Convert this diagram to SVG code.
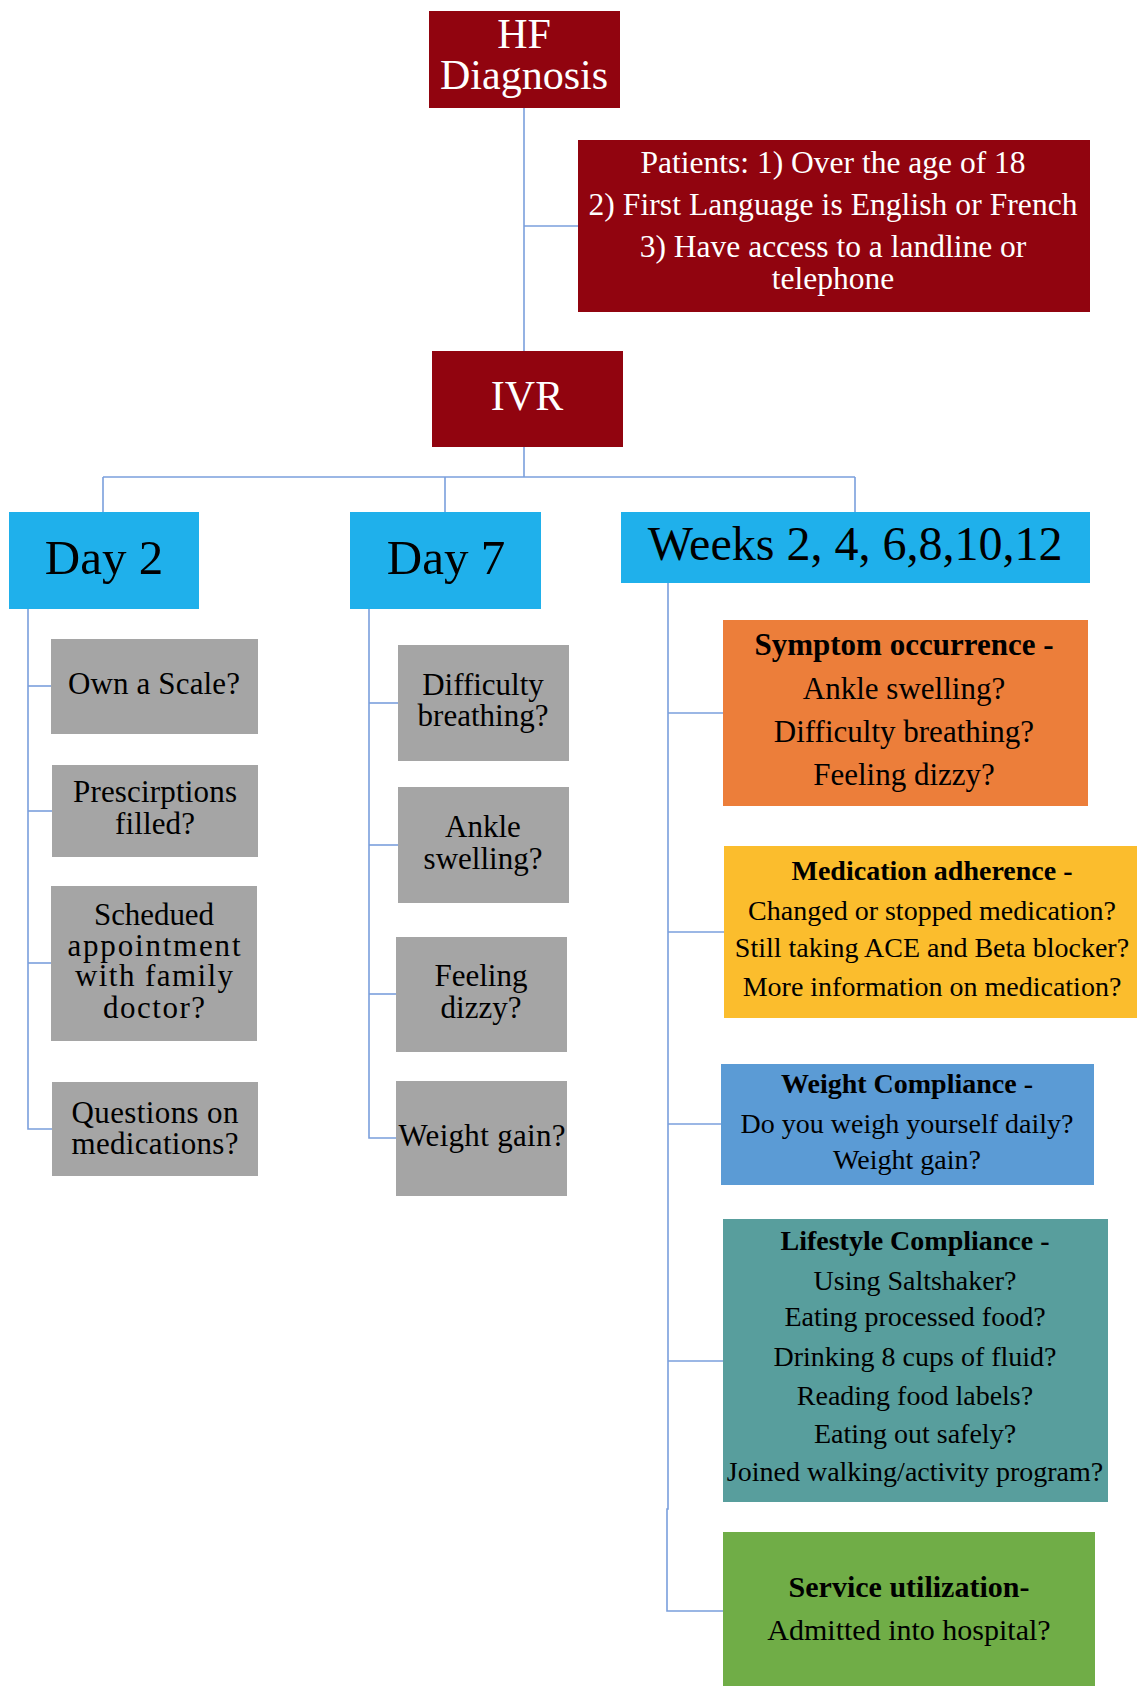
<svg xmlns="http://www.w3.org/2000/svg" width="1137" height="1686" viewBox="0 0 1137 1686">
<style>
text{font-family:"Liberation Serif","Times New Roman",serif;text-anchor:middle;}
.w{fill:#ffffff;}
.k{fill:#000000;}
.b{font-weight:bold;}
.red{fill:#91040F;}
.sky{fill:#1FB0EB;}
.gray{fill:#A5A5A5;}
.con{fill:none;stroke:#7A9FDC;stroke-width:1.6;}
</style>
<rect width="1137" height="1686" fill="#ffffff"/>
<g id="connectors">
<path class="con" d="M524 108 V351"/>
<path class="con" d="M524 226 H578"/>
<path class="con" d="M524 447 V477"/>
<path class="con" d="M103 477 H855"/>
<path class="con" d="M103 477 V512"/>
<path class="con" d="M445 477 V512"/>
<path class="con" d="M855 477 V512"/>
<path class="con" d="M28 609 V1129 H52"/>
<path class="con" d="M28 686 H51"/>
<path class="con" d="M28 811 H52"/>
<path class="con" d="M28 963 H51"/>
<path class="con" d="M369 609 V1138 H396"/>
<path class="con" d="M369 703 H398"/>
<path class="con" d="M369 845 H398"/>
<path class="con" d="M369 994 H396"/>
<path class="con" d="M668 583 V1509 H667 V1611 H723"/>
<path class="con" d="M668 713 H723"/>
<path class="con" d="M668 932 H724"/>
<path class="con" d="M668 1124 H721"/>
<path class="con" d="M668 1361 H723"/>
</g>
<g id="hf">
<rect class="red" x="429" y="11" width="191" height="97"/>
<text class="w" x="524" y="48" font-size="42">HF</text>
<text class="w" x="524" y="89" font-size="42">Diagnosis</text>
</g>
<g id="patients">
<rect class="red" x="578" y="140" width="512" height="172"/>
<text class="w" x="833" y="173" font-size="31.5" textLength="385" lengthAdjust="spacing">Patients: 1) Over the age of 18</text>
<text class="w" x="833" y="215" font-size="31.5" textLength="489" lengthAdjust="spacing">2) First Language is English or French</text>
<text class="w" x="833" y="257" font-size="31.5">3) Have access to a landline or</text>
<text class="w" x="833" y="289" font-size="31.5">telephone</text>
</g>
<g id="ivr">
<rect class="red" x="432" y="351" width="191" height="96"/>
<text class="w" x="527" y="410" font-size="42">IVR</text>
</g>
<g id="day2">
<rect class="sky" x="9" y="512" width="190" height="97"/>
<text class="k" x="104" y="574" font-size="49">Day 2</text>
</g>
<g id="day7">
<rect class="sky" x="350" y="512" width="191" height="97"/>
<text class="k" x="446" y="574" font-size="49">Day 7</text>
</g>
<g id="weeks">
<rect class="sky" x="621" y="512" width="469" height="71"/>
<text class="k" x="855" y="560" font-size="48">Weeks 2, 4, 6,8,10,12</text>
</g>
<g id="own-scale">
<rect class="gray" x="51" y="639" width="207" height="95"/>
<text class="k" x="154" y="694" font-size="31" textLength="172" lengthAdjust="spacing">Own a Scale?</text>
</g>
<g id="prescriptions">
<rect class="gray" x="52" y="765" width="206" height="92"/>
<text class="k" x="155" y="802" font-size="31" textLength="164" lengthAdjust="spacing">Prescirptions</text>
<text class="k" x="155" y="834" font-size="31" textLength="80" lengthAdjust="spacing">filled?</text>
</g>
<g id="appointment">
<rect class="gray" x="51" y="886" width="206" height="155"/>
<text class="k" x="154" y="925" font-size="31" textLength="120" lengthAdjust="spacing">Schedued</text>
<text class="k" x="154" y="956" font-size="31" textLength="173" lengthAdjust="spacing">appointment</text>
<text class="k" x="154" y="986" font-size="31" textLength="158" lengthAdjust="spacing">with family</text>
<text class="k" x="154" y="1018" font-size="31" textLength="102" lengthAdjust="spacing">doctor?</text>
</g>
<g id="questions">
<rect class="gray" x="52" y="1082" width="206" height="94"/>
<text class="k" x="155" y="1123" font-size="31" textLength="167" lengthAdjust="spacing">Questions on</text>
<text class="k" x="155" y="1154" font-size="31" textLength="167" lengthAdjust="spacing">medications?</text>
</g>
<g id="difficulty">
<rect class="gray" x="398" y="645" width="171" height="116"/>
<text class="k" x="483" y="695" font-size="31">Difficulty</text>
<text class="k" x="483" y="726" font-size="31">breathing?</text>
</g>
<g id="ankle">
<rect class="gray" x="398" y="787" width="171" height="116"/>
<text class="k" x="483" y="837" font-size="31">Ankle</text>
<text class="k" x="483" y="869" font-size="31">swelling?</text>
</g>
<g id="dizzy">
<rect class="gray" x="396" y="937" width="171" height="115"/>
<text class="k" x="481" y="986" font-size="31">Feeling</text>
<text class="k" x="481" y="1018" font-size="31">dizzy?</text>
</g>
<g id="weight-gain">
<rect class="gray" x="396" y="1081" width="171" height="115"/>
<text class="k" x="482" y="1146" font-size="31" textLength="167" lengthAdjust="spacing">Weight gain?</text>
</g>
<g id="symptom">
<rect x="723" y="620" width="365" height="186" fill="#EC7E3A"/>
<text class="k b" x="904" y="655" font-size="31">Symptom occurrence -</text>
<text class="k" x="904" y="699" font-size="31">Ankle swelling?</text>
<text class="k" x="904" y="742" font-size="31">Difficulty breathing?</text>
<text class="k" x="904" y="785" font-size="31">Feeling dizzy?</text>
</g>
<g id="medication">
<rect x="724" y="846" width="413" height="172" fill="#FBBD2D"/>
<text class="k b" x="932" y="880" font-size="28">Medication adherence -</text>
<text class="k" x="932" y="920" font-size="28">Changed or stopped medication?</text>
<text class="k" x="932" y="957" font-size="28">Still taking ACE and Beta blocker?</text>
<text class="k" x="932" y="996" font-size="28">More information on medication?</text>
</g>
<g id="weight">
<rect x="721" y="1064" width="373" height="121" fill="#5B9BD5"/>
<text class="k b" x="907" y="1093" font-size="28">Weight Compliance -</text>
<text class="k" x="907" y="1133" font-size="28">Do you weigh yourself daily?</text>
<text class="k" x="907" y="1169" font-size="28">Weight gain?</text>
</g>
<g id="lifestyle">
<rect x="723" y="1219" width="385" height="283" fill="#589E9D"/>
<text class="k b" x="915" y="1250" font-size="28">Lifestyle Compliance -</text>
<text class="k" x="915" y="1290" font-size="28">Using Saltshaker?</text>
<text class="k" x="915" y="1326" font-size="28">Eating processed food?</text>
<text class="k" x="915" y="1366" font-size="28">Drinking 8 cups of fluid?</text>
<text class="k" x="915" y="1405" font-size="28">Reading food labels?</text>
<text class="k" x="915" y="1443" font-size="28">Eating out safely?</text>
<text class="k" x="915" y="1481" font-size="28">Joined walking/activity program?</text>
</g>
<g id="service">
<rect x="723" y="1532" width="372" height="154" fill="#70AD47"/>
<text class="k b" x="909" y="1597" font-size="30">Service utilization-</text>
<text class="k" x="909" y="1640" font-size="30">Admitted into hospital?</text>
</g>
</svg>
